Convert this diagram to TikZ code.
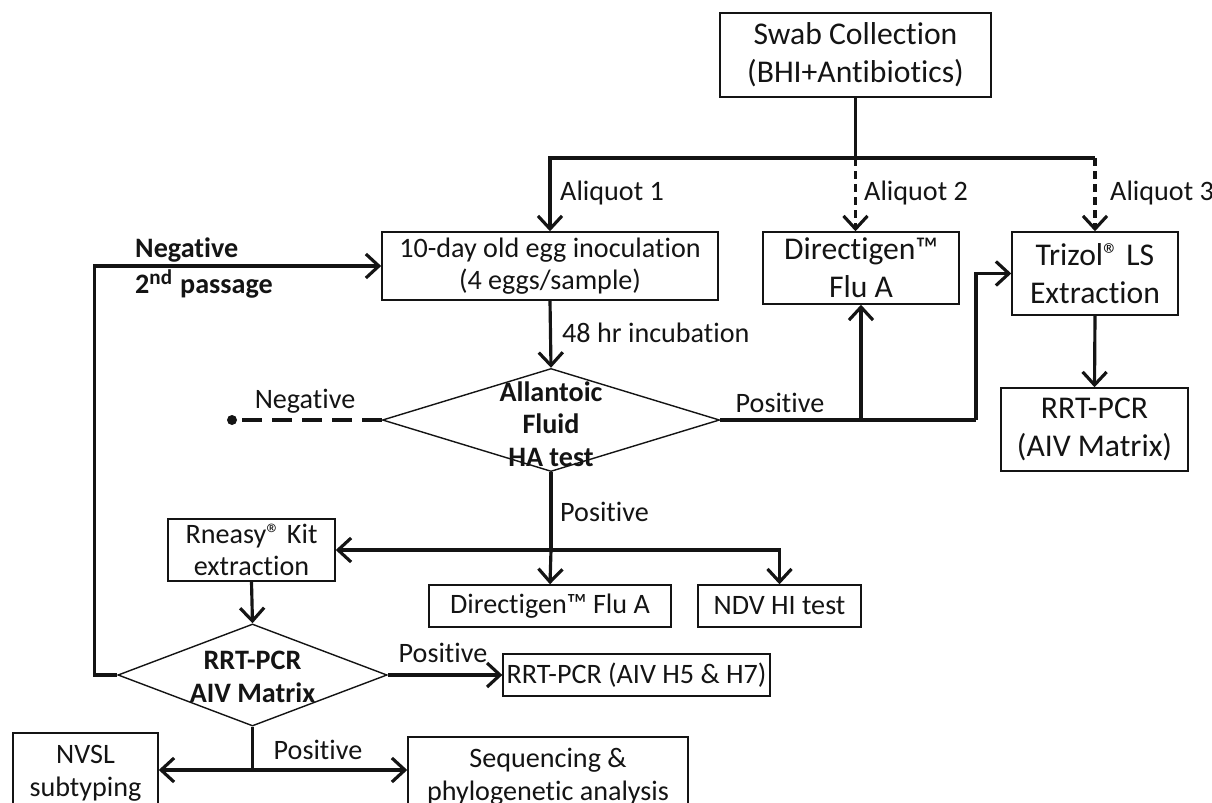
\documentclass[tikz,border=0pt]{standalone}
\usepackage{fontspec}
\setmainfont{Carlito}[Ligatures=NoCommon]
\usetikzlibrary{
    arrows.meta,
    positioning,
    shapes.geometric
}
\definecolor{ink}{RGB}{20,20,20}
\newcommand\flowbig{\fontsize{9.0}{10.9}\selectfont}
\newcommand\flowmid{\fontsize{8.0}{9.3}\selectfont}
\tikzset{
    stepbox/.style={
        rectangle,
        draw=ink,
        line width=0.4pt,
        align=center,
        text=ink,
        inner sep=1pt,
        font=\flowmid
    },
    bigbox/.style={stepbox, font=\flowbig},
    testdiamond/.style={
        diamond,
        draw=ink,
        line width=0.4pt,
        inner sep=0pt
    },
    diamondtext/.style={
        align=center,
        inner sep=0pt,
        font=\flowmid\bfseries,
        text=ink
    },
    flow/.style={
        draw=ink,
        line width=0.9pt
    },
    flowarrow/.style={
        flow,
        -{Straight Barb[length=1.3mm, width=2.4mm, line width=0.9pt]}
    },
    aliquotdash/.style={
        flowarrow,
        dash pattern=on 0.8mm off 0.5mm
    },
    negdash/.style={
        flow,
        dash pattern=on 2mm off 1mm
    },
    annot/.style={
        font=\flowmid,
        text=ink,
        inner sep=1pt
    },
    boldannot/.style={
        annot,
        font=\flowmid\bfseries
    }
}

\begin{document}
\begin{tikzpicture}[x=0.01cm, y=-0.01cm]
\useasboundingbox (0,0) rectangle (1212,803);

% boxes
\node[bigbox, minimum width=2.71cm, minimum height=0.84cm] (swab) at (855.5,55) {Swab Collection\\(BHI+Antibiotics)};
\node[stepbox, minimum width=3.36cm, minimum height=0.68cm] (egg) at (550,266) {10-day old egg inoculation\\(4 eggs/sample)};
\node[bigbox, minimum width=1.96cm, minimum height=0.72cm] (dirtop) at (861,268) {Directigen™\\Flu A};
\node[bigbox, minimum width=1.66cm, minimum height=0.83cm] (trizol) at (1095,273.5) {Trizol® LS\\Extraction};
\node[bigbox, minimum width=1.87cm, minimum height=0.83cm] (matrix) at (1094.5,429.5) {RRT-PCR\\(AIV Matrix)};
\node[stepbox, minimum width=1.67cm, minimum height=0.62cm] (rneasy) at (251.5,550) {Rneasy® Kit\\extraction};
\node[stepbox, minimum width=2.42cm, minimum height=0.42cm] (dirlow) at (550,606) {Directigen™ Flu A};
\node[stepbox, minimum width=1.63cm, minimum height=0.42cm] (ndv) at (779.5,606) {NDV HI test};
\node[stepbox, minimum width=2.27cm, minimum height=0.42cm] (hfive) at (636.5,675) {RRT-PCR (AIV H5 \& H7)};
\node[stepbox, minimum width=1.45cm, minimum height=0.80cm] (nvsl) at (85.5,773) {NVSL\\subtyping};
\node[stepbox, minimum width=2.80cm, minimum height=0.80cm] (seq) at (548,777) {Sequencing \&\\phylogenetic analysis};

% decisions
\node[testdiamond, minimum width=3.37cm, minimum height=1.03cm] (ha) at (551,420) {};
\node[diamondtext] (hatext) at (551,424) {Allantoic\\Fluid\\HA test};
\node[testdiamond, minimum width=2.69cm, minimum height=1.02cm] (pcr) at (252.5,675) {};
\node[diamondtext] (pcrtext) at (252.5,677) {RRT-PCR\\AIV Matrix};

% aliquots
\coordinate (split) at (855.5,158);
\coordinate (splitend) at (trizol.north |- split);
\draw[flow] (swab.south) -- (split);
\draw[flowarrow] (split) -| (egg.north);
\draw[flow] (split) -- (splitend);
\draw[aliquotdash] (split) -- (split |- dirtop.north);
\draw[aliquotdash] (splitend) -- (trizol.north);
\node[annot, anchor=west] (aliqone) at (556,193) {Aliquot 1};
\node[annot, anchor=west] (aliqtwo) at (860,193) {Aliquot 2};
\node[annot, anchor=west] (aliqthree) at (1106,193) {Aliquot 3};

% egg test
\draw[flowarrow] (egg.south) -- (ha.north);
\node[annot, anchor=west] (incub) at (558,333) {48 hr incubation};

\coordinate (negend) at (232,420);
\draw[negdash] (ha.west) -- (negend);
\fill[ink] (negend) circle (5);
\node[annot] (hanegative) at (305,401) {Negative};

\coordinate (posturn) at (976,420);
\draw[flow] (ha.east) -- (posturn);
\draw[flowarrow] (posturn) |- (trizol.west);
\draw[flowarrow] (ha.east -| dirtop.south) -- (dirtop.south);
\draw[flowarrow] (trizol.south) -- (matrix.north);
\node[annot] (hapositive) at (780,403) {Positive};

\coordinate (hajoin) at (ha.south |- rneasy.east);
\draw[flow] (ha.south) -- (hajoin);
\draw[flowarrow] (hajoin) -- (dirlow.north);
\draw[flowarrow] (hajoin) -- (rneasy.east);
\draw[flowarrow] (hajoin) -| (ndv.north);
\node[annot, anchor=west] (hapositivetwo) at (556,512) {Positive};

% rna test
\draw[flowarrow] (rneasy.south) -- (pcr.north);
\draw[flowarrow] (pcr.west) -- ++(-23,0) |- (egg.west);
\node[boldannot, anchor=west] (pcrnegative) at (131,250) {Negative};
\node[boldannot, anchor=west] (passage) at (131,284) {2\textsuperscript{nd} passage};

\draw[flowarrow] (pcr.east) -- (hfive.west);
\node[annot] (pcrpositive) at (443,653) {Positive};

\coordinate (pcrjoin) at (pcr.south |- 0,770);
\draw[flow] (pcr.south) -- (pcrjoin);
\draw[flowarrow] (pcrjoin) -- (pcrjoin -| nvsl.east);
\draw[flowarrow] (pcrjoin) -- (pcrjoin -| seq.west);
\node[annot] (pcrpositivetwo) at (318,750) {Positive};

\end{tikzpicture}
\end{document}
